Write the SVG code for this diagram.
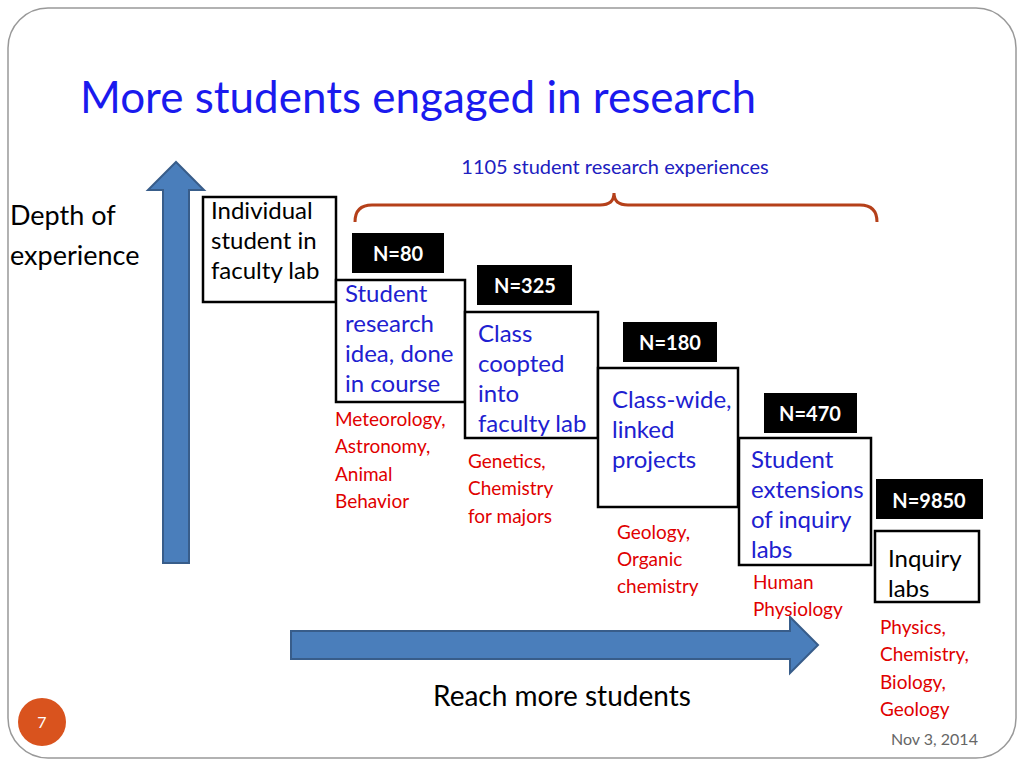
<svg xmlns="http://www.w3.org/2000/svg" width="1024" height="768" viewBox="0 0 1024 768">
<style>
text{font-family:Lato,"Open Sans","Liberation Sans",sans-serif}
.box{fill:#fff;stroke:#000;stroke-width:2.5}
.nb{fill:#000}
.nt{fill:#fff;font-size:20px;font-weight:bold;text-anchor:middle}
.bt{fill:#2020d0;font-size:24px}
.kt{fill:#000;font-size:24px}
.rt{fill:#e00000;font-size:19px}
.arr{fill:#4a7ebb;stroke:#385d8a;stroke-width:2}
</style>
<rect x="0" y="0" width="1024" height="768" fill="#fff"/>
<rect x="8" y="8" width="1008" height="750" rx="40" fill="#fff" stroke="#999" stroke-width="1.5"/>
<text x="80" y="113" font-size="44" fill="#1a1aee">More students engaged in research</text>
<text x="615" y="174" font-size="20" fill="#2020c0" text-anchor="middle">1105 student research experiences</text>
<g id="connectors">
<path d="M355,222 Q355,205 372,205 L600,205 Q614,205 614,193 Q614,205 628,205 L860,205 Q877,205 877,222" fill="none" stroke="#b5401a" stroke-width="3"/>
<path class="arr" d="M163,563 L163,190 L148,190 L176,162 L204,190 L189,190 L189,563 Z"/>
<path class="arr" d="M291,631 L790,631 L790,617 L818,645 L790,673 L790,659 L291,659 Z"/>
</g>
<text x="10" y="225" font-size="27" fill="#000">Depth of</text>
<text x="10" y="265" font-size="27" fill="#000">experience</text>
<g id="n1"><rect class="box" x="203" y="197" width="133" height="105"/>
<text class="kt" x="211" y="219">Individual</text><text class="kt" x="211" y="249">student in</text><text class="kt" x="211" y="279">faculty lab</text></g>
<g id="b1"><rect class="nb" x="352" y="233" width="92" height="40"/><text class="nt" x="398" y="261">N=80</text></g>
<g id="n2"><rect class="box" x="336" y="280" width="129" height="122"/>
<text class="bt" x="345" y="302">Student</text><text class="bt" x="345" y="332">research</text><text class="bt" x="345" y="362">idea, done</text><text class="bt" x="345" y="392">in course</text></g>
<g class="rt"><text class="rt" x="335" y="426">Meteorology,</text><text class="rt" x="335" y="453">Astronomy,</text><text class="rt" x="335" y="481">Animal</text><text class="rt" x="335" y="508">Behavior</text></g>
<g id="b2"><rect class="nb" x="477" y="265" width="95" height="40"/><text class="nt" x="525" y="293">N=325</text></g>
<g id="n3"><rect class="box" x="465" y="312" width="133" height="126"/>
<text class="bt" x="478" y="342">Class</text><text class="bt" x="478" y="372">coopted</text><text class="bt" x="478" y="402">into</text><text class="bt" x="478" y="432">faculty lab</text></g>
<text class="rt" x="468" y="468">Genetics,</text><text class="rt" x="468" y="495">Chemistry</text><text class="rt" x="468" y="523">for majors</text>
<g id="b3"><rect class="nb" x="623" y="322" width="94" height="40"/><text class="nt" x="670" y="350">N=180</text></g>
<g id="n4"><rect class="box" x="598" y="368" width="140" height="139"/>
<text class="bt" x="612" y="408">Class-wide,</text><text class="bt" x="612" y="438">linked</text><text class="bt" x="612" y="468">projects</text></g>
<text class="rt" x="617" y="539">Geology,</text><text class="rt" x="617" y="566">Organic</text><text class="rt" x="617" y="593">chemistry</text>
<g id="b4"><rect class="nb" x="764" y="393" width="93" height="40"/><text class="nt" x="810" y="421">N=470</text></g>
<g id="n5"><rect class="box" x="739" y="438" width="132" height="127"/>
<text class="bt" x="751" y="468">Student</text><text class="bt" x="751" y="498">extensions</text><text class="bt" x="751" y="528">of inquiry</text><text class="bt" x="751" y="558">labs</text></g>
<text class="rt" x="753" y="589">Human</text><text class="rt" x="753" y="616">Physiology</text>
<g id="b5"><rect class="nb" x="876" y="479" width="107" height="40"/><text class="nt" x="929" y="508">N=9850</text></g>
<g id="n6"><rect class="box" x="875" y="531" width="104" height="71"/>
<text class="kt" x="888" y="567">Inquiry</text><text class="kt" x="888" y="597">labs</text></g>
<text class="rt" x="880" y="634">Physics,</text><text class="rt" x="880" y="661">Chemistry,</text><text class="rt" x="880" y="689">Biology,</text><text class="rt" x="880" y="716">Geology</text>
<text x="433" y="706" font-size="28" fill="#000">Reach more students</text>
<circle cx="42" cy="722" r="24" fill="#d9531e"/>
<text x="42" y="728" font-size="16" fill="#fff" text-anchor="middle">7</text>
<text x="891" y="745" font-size="16" fill="#666">Nov 3, 2014</text>
</svg>
